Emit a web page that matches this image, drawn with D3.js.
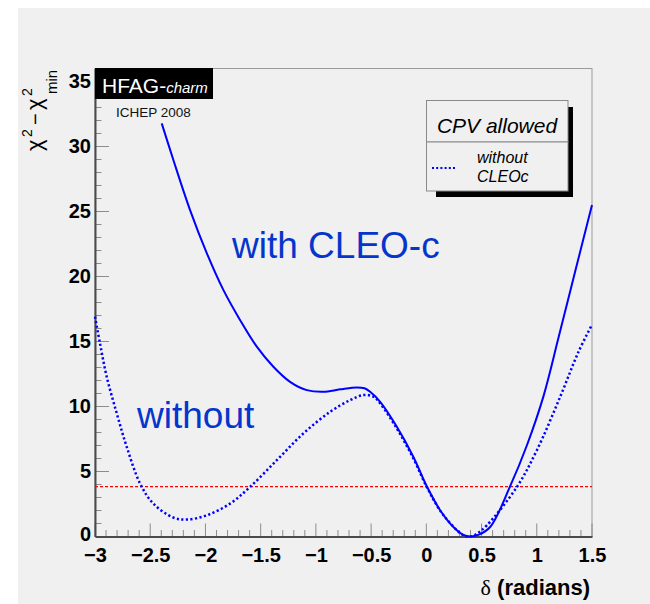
<!DOCTYPE html>
<html>
<head>
<meta charset="utf-8">
<script src="https://cdn.jsdelivr.net/npm/d3@7"></script>
<style>
  html, body { margin: 0; padding: 0; background: #ffffff; }
  svg { display: block; }
</style>
</head>
<body>
<svg id="chart" width="650" height="604"></svg>
<script>
// Δχ² scan versus the strong phase δ, with and without CLEO-c input
const deltaWith = [-2.396, -2.291, -2.140, -1.988, -1.838, -1.687, -1.535, -1.385, -1.234, -1.082,
  -0.932, -0.781, -0.630, -0.560, -0.509, -0.418, -0.267, -0.117, 0.004, 0.125,
  0.245, 0.330, 0.400, 0.470, 0.578, 0.759, 0.910, 1.061, 1.197, 1.348, 1.500];
const chi2With = [31.78, 28.98, 25.13, 21.80, 18.97, 16.66, 14.60, 13.06, 11.90, 11.26,
  11.13, 11.32, 11.47, 11.40, 11.13, 10.36, 8.44, 6.12, 3.87, 2.02,
  0.73, 0.15, 0.00, 0.12, 0.73, 3.87, 7.00, 10.80, 15.30, 20.40, 25.50];

const deltaWithout = [-3.000, -2.955, -2.894, -2.803, -2.713, -2.592, -2.472, -2.291, -2.169, -1.988,
  -1.777, -1.596, -1.354, -1.113, -0.871, -0.690, -0.570, -0.479, -0.418, -0.267,
  -0.117, 0.004, 0.150, 0.336, 0.400, 0.457, 0.548, 0.820, 1.001, 1.212, 1.378, 1.500];
const chi2Without = [16.91, 14.86, 12.29, 9.47, 6.90, 4.08, 2.53, 1.46, 1.30, 1.63,
  2.53, 3.81, 5.87, 7.93, 9.59, 10.49, 10.88, 10.75, 10.24, 8.30,
  6.00, 3.81, 1.70, 0.09, 0.00, 0.22, 0.86, 3.81, 6.64, 10.75, 14.21, 16.30];

const xTickValues = [-3, -2.5, -2, -1.5, -1, -0.5, 0, 0.5, 1, 1.5];
const xTickLabels = ["\u22123", "\u22122.5", "\u22122", "\u22121.5", "\u22121", "\u22120.5", "0", "0.5", "1", "1.5"];
const yTickValues = [0, 5, 10, 15, 20, 25, 30, 35];
const yTickLabels = ["0", "5", "10", "15", "20", "25", "30", "35"];
const clLevel = [3.84];

const svg = d3.select("#chart");
const W = 650, H = 604;
const frame = { left: 95, right: 592, top: 68.5, bottom: 536.5 };

// pad background
svg.append("rect").attr("x", 18).attr("y", 8).attr("width", W - 18).attr("height", H - 8)
  .attr("fill", "#f0f0f0");

const x = d3.scaleLinear().domain([-3, 1.5]).range([frame.left, frame.right]);
const y = d3.scaleLinear().domain([0, 36]).range([frame.bottom, frame.top]);

// frame
svg.append("rect").attr("x", frame.left).attr("y", frame.top)
  .attr("width", frame.right - frame.left).attr("height", frame.bottom - frame.top)
  .attr("fill", "none").attr("stroke", "#9a9a9a").attr("stroke-width", 1);

// minor + major ticks, drawn inward
const tickColor = "#8c8c8c";
const xMinor = d3.range(-3, 1.5001, 0.1);
svg.append("g").selectAll("line").data(xMinor).join("line")
  .attr("x1", d => x(d)).attr("x2", d => x(d))
  .attr("y1", frame.bottom).attr("y2", (d, i) => frame.bottom - (i % 5 === 0 ? 13 : 6.5))
  .attr("stroke", tickColor).attr("stroke-width", 1);
const yMinor = d3.range(0, 36.001, 1);
svg.append("g").selectAll("line").data(yMinor).join("line")
  .attr("y1", d => y(d)).attr("y2", d => y(d))
  .attr("x1", frame.left).attr("x2", (d, i) => frame.left + (i % 5 === 0 ? 14 : 6.5))
  .attr("stroke", tickColor).attr("stroke-width", 1);

// axes with labels
const labelFont = "Liberation Sans, Arial, sans-serif";
const xAxis = d3.axisBottom(x).tickValues(xTickValues).tickSize(0).tickPadding(11)
  .tickFormat((d, i) => xTickLabels[i]);
const gx = svg.append("g").attr("transform", `translate(0,${frame.bottom})`).call(xAxis);
gx.select(".domain").attr("stroke", "#4a4a4a").attr("stroke-width", 2);
gx.selectAll("text").attr("font-family", labelFont)
  .attr("font-weight", "bold").attr("font-size", 20).attr("fill", "#000");

const yAxis = d3.axisLeft(y).tickValues(yTickValues).tickSize(0).tickPadding(4)
  .tickFormat((d, i) => yTickLabels[i]);
const gy = svg.append("g").attr("transform", `translate(${frame.left},0)`).call(yAxis);
gy.select(".domain").attr("stroke", "#4a4a4a").attr("stroke-width", 2);
gy.selectAll("text").attr("font-family", labelFont)
  .attr("font-weight", "bold").attr("font-size", 20).attr("fill", "#000");
// the zero label sits a little higher so it clears the x labels
gy.selectAll(".tick").filter(d => d === 0).select("text").attr("dy", "0.18em");

// 95% CL reference line
svg.append("g").selectAll("line").data(clLevel).join("line")
  .attr("x1", frame.left).attr("x2", frame.right)
  .attr("y1", d => y(d)).attr("y2", d => y(d))
  .attr("stroke", "#ff0000").attr("stroke-width", 1.2).attr("stroke-dasharray", "3,2");

// curves
const line = d3.line().x(d => x(d[0])).y(d => y(d[1])).curve(d3.curveCatmullRom.alpha(0.5));
const withPts = deltaWith.map((d, i) => [d, chi2With[i]]);
const withoutPts = deltaWithout.map((d, i) => [d, chi2Without[i]]);

svg.append("path").datum(withoutPts).attr("d", line)
  .attr("fill", "none").attr("stroke", "#0000ff").attr("stroke-width", 2.5)
  .attr("stroke-dasharray", "2.2,2.4");
svg.append("path").datum(withPts).attr("d", line)
  .attr("fill", "none").attr("stroke", "#0000ff").attr("stroke-width", 2);

// annotations
const annFont = "Liberation Sans, Arial, sans-serif";
svg.append("text").attr("x", 232).attr("y", 258).text("with CLEO-c")
  .attr("font-family", annFont).attr("font-size", 37).attr("fill", "#0535cc");
svg.append("text").attr("x", 137).attr("y", 428).text("without")
  .attr("font-family", annFont).attr("font-size", 37).attr("fill", "#0535cc");

// HFAG logo
svg.append("rect").attr("x", 95).attr("y", 68).attr("width", 118).attr("height", 31).attr("fill", "#000");
const logo = svg.append("text").attr("x", 102).attr("y", 93)
  .attr("font-family", annFont).attr("fill", "#fff");
logo.append("tspan").attr("font-size", 21).text("HFAG-");
logo.append("tspan").attr("font-size", 15).attr("font-style", "italic").text("charm");
svg.append("text").attr("x", 116).attr("y", 117).text("ICHEP 2008")
  .attr("font-family", annFont).attr("font-size", 13.5).attr("fill", "#111");

// header pave + legend with shadows
svg.append("rect").attr("x", 568).attr("y", 107).attr("width", 5).attr("height", 90).attr("fill", "#000");
svg.append("rect").attr("x", 436).attr("y", 191).attr("width", 137).attr("height", 6).attr("fill", "#000");
svg.append("rect").attr("x", 426.5).attr("y", 100.5).attr("width", 141.5).attr("height", 41.5)
  .attr("fill", "#f0f0f0").attr("stroke", "#8a8a8a").attr("stroke-width", 1);
svg.append("rect").attr("x", 426.5).attr("y", 142).attr("width", 141.5).attr("height", 49)
  .attr("fill", "#f0f0f0").attr("stroke", "#8a8a8a").attr("stroke-width", 1);
svg.append("text").attr("x", 497).attr("y", 133).attr("text-anchor", "middle").text("CPV allowed")
  .attr("font-family", annFont).attr("font-style", "italic").attr("font-size", 21).attr("fill", "#000");
svg.append("line").attr("x1", 432).attr("x2", 456).attr("y1", 168).attr("y2", 168)
  .attr("stroke", "#0000ff").attr("stroke-width", 2).attr("stroke-dasharray", "2,2.2");
svg.append("text").attr("x", 477).attr("y", 163).text("without")
  .attr("font-family", annFont).attr("font-style", "italic").attr("font-size", 16).attr("fill", "#000");
svg.append("text").attr("x", 477).attr("y", 182).text("CLEOc")
  .attr("font-family", annFont).attr("font-style", "italic").attr("font-size", 16).attr("fill", "#000");

// x-axis title
const xt = svg.append("text").attr("x", 590).attr("y", 595).attr("text-anchor", "end")
  .attr("font-family", annFont).attr("font-size", 22).attr("fill", "#000");
xt.append("tspan").attr("font-family", "Liberation Serif, Times New Roman, serif").text("\u03b4");
xt.append("tspan").attr("font-weight", "bold").text(" (radians)");

// y-axis title: χ² − χ²_min, rotated
const yt = svg.append("g").attr("transform", "translate(42,151) rotate(-90)")
  .attr("font-family", annFont).attr("fill", "#000");
yt.append("text").attr("x", 0).attr("y", 0).attr("font-size", 22).text("\u03c7");
yt.append("text").attr("x", 14).attr("y", -10).attr("font-size", 14).text("2");
yt.append("text").attr("x", 26).attr("y", 0).attr("font-size", 20).text("\u2212");
yt.append("text").attr("x", 41).attr("y", 0).attr("font-size", 22).text("\u03c7");
yt.append("text").attr("x", 55).attr("y", -10).attr("font-size", 14).text("2");
yt.append("text").attr("x", 57).attr("y", 15).attr("font-size", 15).text("min");
</script>
</body>
</html>
